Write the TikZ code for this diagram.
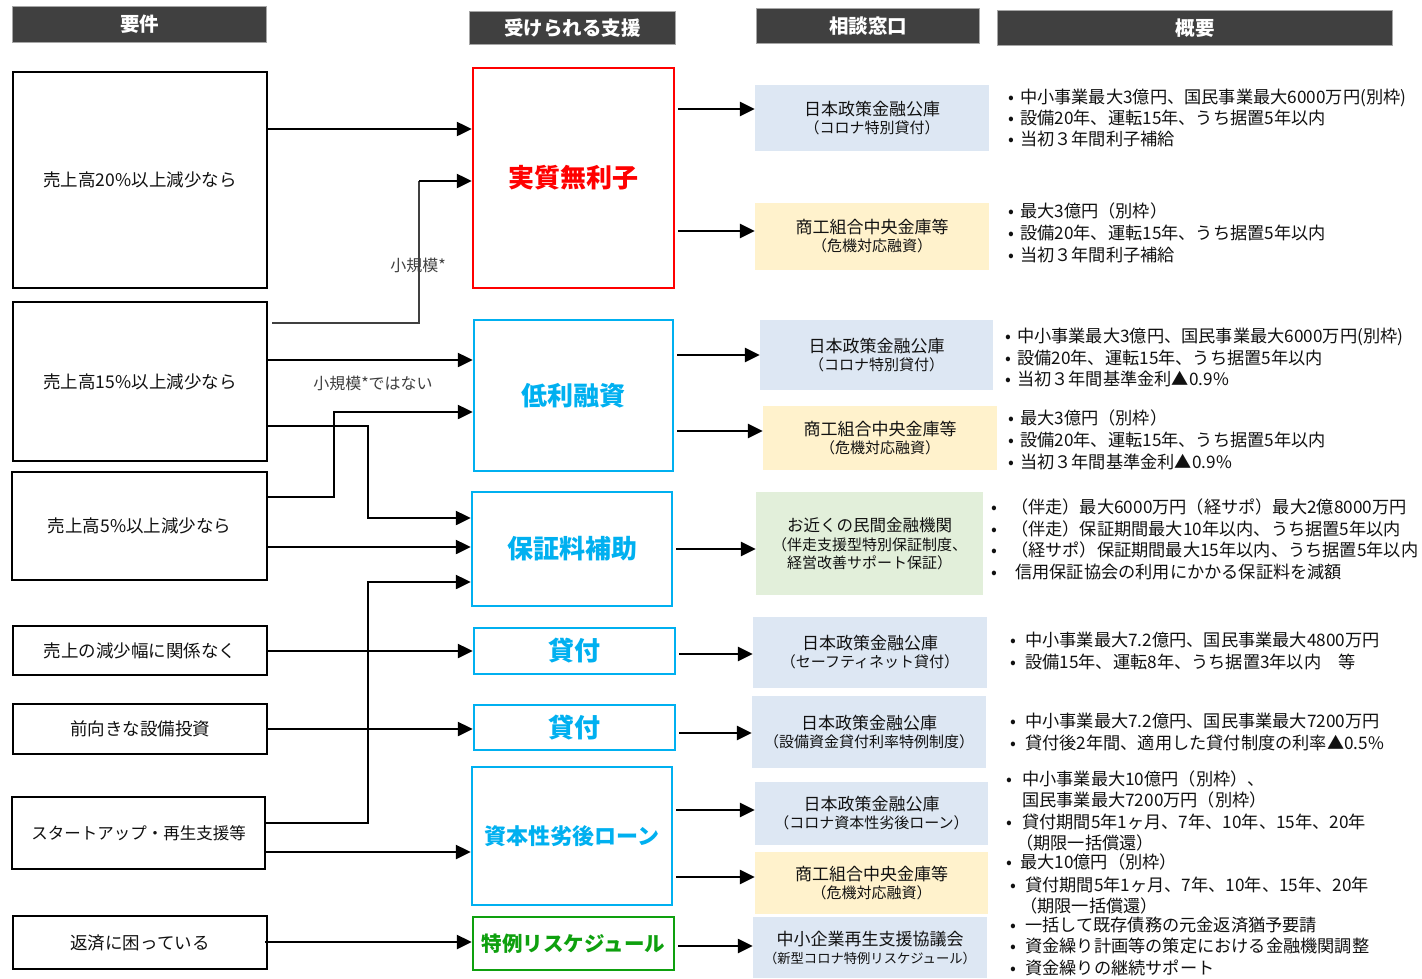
\documentclass[tikz,border=0pt]{standalone}
\usepackage{fontspec}
\setmainfont{Noto Sans CJK JP}
\usetikzlibrary{arrows.meta}
\definecolor{hdr}{HTML}{404040}
\definecolor{hdrline}{HTML}{A6A6A6}
\definecolor{cy}{HTML}{00B0F0}
\definecolor{rd}{HTML}{FF0000}
\definecolor{gr}{HTML}{0EA00E}
\definecolor{lblue}{HTML}{DDE7F3}
\definecolor{lyel}{HTML}{FFF2CC}
\definecolor{lgrn}{HTML}{E2EFDA}
\definecolor{txt}{HTML}{111111}
\definecolor{lbl}{HTML}{404040}
\newcommand\smf{\fontsize{15}{18}\selectfont}
\newcommand\bul[5]{\node[bt, anchor=base west] (#1) at (#2,#4+6) {\makebox[#3pt][l]{•}#5};}
\newcommand\cont[4]{\node[bt, anchor=base west] (#1) at (#2,#3+6) {#4};}
\tikzset{
  hdrbox/.style={draw=hdrline, line width=1.5pt, fill=hdr, text=white, inner sep=0pt,
    font=\fontsize{19.5}{21}\selectfont\bfseries},
  reqbox/.style={draw=black, line width=2.5pt, inner sep=0pt, text=txt,
    font=\fontsize{17.5}{20}\selectfont},
  supbox/.style={line width=2.5pt, fill=white, inner sep=0pt,
    font=\fontsize{26}{30}\selectfont\bfseries},
  winbox/.style={inner sep=0pt, align=center, text=txt, font=\fontsize{17}{21}\selectfont},
  bt/.style={inner sep=0pt, text=txt, font=\fontsize{17.2}{20}\selectfont},
  conn/.style={line width=2.5pt, -{Triangle[length=15pt,width=14pt]}},
  thinln/.style={line width=1.5pt, draw=lbl},
  lab/.style={inner sep=0pt, text=lbl, font=\fontsize{16}{18}\selectfont},
}
\begin{document}
\begin{tikzpicture}[x=1pt,y=-1pt]
\useasboundingbox (0,0) rectangle (1422,978);
\fill[white] (0,0) rectangle (1422,978);
% headers
\node[hdrbox, minimum width=254pt, minimum height=36pt] (H1) at (139.5,24.5) {要件};
\node[hdrbox, minimum width=206pt, minimum height=33pt] (H2) at (572.5,28) {受けられる支援};
\node[hdrbox, minimum width=223pt, minimum height=35pt] (H3) at (868,26) {相談窓口};
\node[hdrbox, minimum width=395pt, minimum height=35pt] (H4) at (1195,28) {概要};
% requirement boxes
\node[reqbox, minimum width=254pt, minimum height=216pt] (B1) at (140,180) {売上高20\%以上減少なら};
\node[reqbox, minimum width=254pt, minimum height=159pt] (B2) at (140,381.5) {売上高15\%以上減少なら};
\node[reqbox, minimum width=255pt, minimum height=108pt] (B3) at (139.5,526) {売上高5\%以上減少なら};
\node[reqbox, minimum width=254pt, minimum height=49pt] (B4) at (140,650.5) {売上の減少幅に関係なく};
\node[reqbox, minimum width=254pt, minimum height=50pt] (B5) at (140,729) {前向きな設備投資};
\node[reqbox, minimum width=253pt, minimum height=72pt, font=\fontsize{16.5}{20}\selectfont] (B6) at (138.5,833) {スタートアップ・再生支援等};
\node[reqbox, minimum width=254pt, minimum height=53pt] (B7) at (140,942.5) {返済に困っている};
% support boxes
\node[supbox, draw=rd, text=rd, minimum width=201pt, minimum height=220pt] (M1) at (573.5,178) {実質無利子};
\node[supbox, draw=cy, text=cy, minimum width=199pt, minimum height=151pt] (M2) at (573.5,395.5) {低利融資};
\node[supbox, draw=cy, text=cy, minimum width=200pt, minimum height=114pt] (M3) at (572,549) {保証料補助};
\node[supbox, draw=cy, text=cy, minimum width=201pt, minimum height=46pt] (M4) at (574.5,651) {貸付};
\node[supbox, draw=cy, text=cy, minimum width=201pt, minimum height=45pt] (M5) at (574.5,727.5) {貸付};
\node[supbox, draw=cy, text=cy, minimum width=200pt, minimum height=138pt, font=\fontsize{22}{26}\selectfont\bfseries] (M6) at (572,836) {資本性劣後ローン};
\node[supbox, draw=gr, text=gr, minimum width=201pt, minimum height=53pt, font=\fontsize{20.5}{24}\selectfont\bfseries] (M7) at (573.5,943.5) {特例リスケジュール};
% window boxes
\node[winbox, fill=lblue, minimum width=234pt, minimum height=66pt] (R1) at (872,118) {日本政策金融公庫\\[-3pt]{\smf（コロナ特別貸付）}};
\node[winbox, fill=lyel, minimum width=234pt, minimum height=67pt] (R2) at (872,236.5) {商工組合中央金庫等\\[-3pt]{\smf（危機対応融資）}};
\node[winbox, fill=lblue, minimum width=233pt, minimum height=70pt] (R3) at (876.5,355) {日本政策金融公庫\\[-3pt]{\smf（コロナ特別貸付）}};
\node[winbox, fill=lyel, minimum width=234pt, minimum height=64pt] (R4) at (880,438) {商工組合中央金庫等\\[-3pt]{\smf（危機対応融資）}};
\node[winbox, fill=lgrn, minimum width=227pt, minimum height=103pt, font=\fontsize{16.5}{21}\selectfont] (R5) at (869.5,543.5) {お近くの民間金融機関\\[-2pt]{\smf（伴走支援型特別保証制度、}\\[-3pt]{\smf 経営改善サポート保証）}};
\node[winbox, fill=lblue, minimum width=234pt, minimum height=71pt] (R6) at (870,652.5) {日本政策金融公庫\\[-3pt]{\smf（セーフティネット貸付）}};
\node[winbox, fill=lblue, minimum width=234pt, minimum height=72pt] (R7) at (869,732) {日本政策金融公庫\\[-3pt]{\smf（設備資金貸付利率特例制度）}};
\node[winbox, fill=lblue, minimum width=233pt, minimum height=63pt] (R8) at (871.5,813.5) {日本政策金融公庫\\[-3pt]{\smf（コロナ資本性劣後ローン）}};
\node[winbox, fill=lyel, minimum width=233pt, minimum height=62pt] (R9) at (871.5,883) {商工組合中央金庫等\\[-3pt]{\smf（危機対応融資）}};
\node[winbox, fill=lblue, minimum width=234pt, minimum height=61pt] (R10) at (870,947.5) {中小企業再生支援協議会\\[-3pt]{\fontsize{13.3}{16}\selectfont（新型コロナ特例リスケジュール）}};
% left connectors
\draw[conn] (B1.east |- 0,129) -- (M1.west |- 0,129);
\coordinate (s1) at (419,181);
\draw[thinln] ([xshift=4pt]B2.east |- 0,323) -| (s1);
\draw[conn] (s1) -- (M1.west |- s1);
\node[lab] (L1) at (418,265) {小規模*};
\draw[conn] (B2.east |- 0,360) -- (M2.west |- 0,360);
\node[lab] (L2) at (373,383) {小規模*ではない};
\coordinate (e1) at (334,412);
\draw[conn] (B3.east |- 0,497) -| (e1) -- (M2.west |- e1);
\coordinate (e2) at (368,518);
\draw[conn] (B2.east |- 0,426) -| (e2) -- (M3.west |- e2);
\draw[conn] (B3.east |- 0,547) -- (M3.west |- 0,547);
\coordinate (e3) at (368,582);
\draw[conn] (B6.east |- 0,823) -| (e3) -- (M3.west |- e3);
\draw[conn] (B4.east |- 0,651) -- (M4.west |- 0,651);
\draw[conn] (B5.east |- 0,729) -- (M5.west |- 0,729);
\draw[conn] (B6.east |- 0,852) -- (M6.west |- 0,852);
\draw[conn] ([xshift=-3pt]B7.east |- 0,942) -- (M7.west |- 0,942);
% right connectors
\draw[conn] ([xshift=3pt]M1.east |- 0,109) -- (R1.west |- 0,109);
\draw[conn] ([xshift=3pt]M1.east |- 0,231) -- (R2.west |- 0,231);
\draw[conn] ([xshift=3pt]M2.east |- 0,355) -- (R3.west |- 0,355);
\draw[conn] ([xshift=3pt]M2.east |- 0,431) -- (R4.west |- 0,431);
\draw[conn] ([xshift=3pt]M3.east |- 0,549) -- (R5.west |- 0,549);
\draw[conn] ([xshift=3pt]M4.east |- 0,654) -- (R6.west |- 0,654);
\draw[conn] ([xshift=3pt]M5.east |- 0,733) -- (R7.west |- 0,733);
\draw[conn] ([xshift=3pt]M6.east |- 0,810) -- (R8.west |- 0,810);
\draw[conn] ([xshift=3pt]M6.east |- 0,877) -- (R9.west |- 0,877);
\draw[conn] ([xshift=3pt]M7.east |- 0,946) -- (R10.west |- 0,946);
% summaries
\bul{t1a}{1008}{12}{97}{中小事業最大3億円、国民事業最大6000万円(別枠)}
\bul{t1b}{1008}{12}{118}{設備20年、運転15年、うち据置5年以内}
\bul{t1c}{1008}{12}{139}{当初３年間利子補給}
\bul{t2a}{1008}{12}{211}{最大3億円（別枠）}
\bul{t2b}{1008}{12}{233}{設備20年、運転15年、うち据置5年以内}
\bul{t2c}{1008}{12}{255}{当初３年間利子補給}
\bul{t3a}{1005}{12}{336}{中小事業最大3億円、国民事業最大6000万円(別枠)}
\bul{t3b}{1005}{12}{358}{設備20年、運転15年、うち据置5年以内}
\bul{t3c}{1005}{12}{379}{当初３年間基準金利▲0.9\%}
\bul{t4a}{1008}{12}{418}{最大3億円（別枠）}
\bul{t4b}{1008}{12}{440}{設備20年、運転15年、うち据置5年以内}
\bul{t4c}{1008}{12}{462}{当初３年間基準金利▲0.9\%}
\bul{t5a}{991}{20}{507}{（伴走）最大6000万円（経サポ）最大2億8000万円}
\bul{t5b}{991}{20}{529}{（伴走）保証期間最大10年以内、うち据置5年以内}
\bul{t5c}{991}{20}{550}{（経サポ）保証期間最大15年以内、うち据置5年以内}
\bul{t5d}{991}{24}{572}{信用保証協会の利用にかかる保証料を減額}
\bul{t6a}{1010}{15}{640}{中小事業最大7.2億円、国民事業最大4800万円}
\bul{t6b}{1010}{15}{662}{設備15年、運転8年、うち据置3年以内　等}
\bul{t7a}{1010}{15}{721}{中小事業最大7.2億円、国民事業最大7200万円}
\bul{t7b}{1010}{15}{743}{貸付後2年間、適用した貸付制度の利率▲0.5\%}
\bul{t8a}{1006}{16}{779}{中小事業最大10億円（別枠）、}
\cont{t8b}{1022}{800}{国民事業最大7200万円（別枠）}
\bul{t8c}{1006}{16}{822}{貸付期間5年1ヶ月、7年、10年、15年、20年}
\cont{t8d}{1016}{843}{（期限一括償還）}
\bul{t9a}{1006}{14}{862}{最大10億円（別枠）}
\bul{t9b}{1010}{15}{885}{貸付期間5年1ヶ月、7年、10年、15年、20年}
\cont{t9c}{1020}{906}{（期限一括償還）}
\bul{t10a}{1010}{15}{925}{一括して既存債務の元金返済猶予要請}
\bul{t10b}{1010}{15}{946}{資金繰り計画等の策定における金融機関調整}
\bul{t10c}{1010}{15}{968}{資金繰りの継続サポート}
\end{tikzpicture}
\end{document}
